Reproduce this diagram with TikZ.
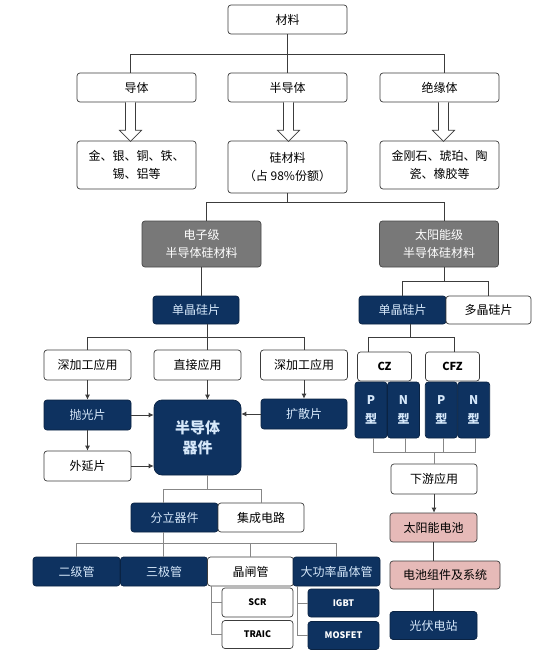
\documentclass[tikz,border=0pt]{standalone}
\usepackage{fontspec}
\setmainfont{Noto Sans CJK SC}
\usetikzlibrary{arrows.meta}
\definecolor{SiNavy}{RGB}{14,50,96}
\definecolor{SiNavyText}{RGB}{214,232,250}
\definecolor{SiGrey}{RGB}{120,120,120}
\definecolor{SiPink}{RGB}{230,186,184}
\definecolor{SiLine}{RGB}{60,60,60}
\definecolor{SiLight}{RGB}{135,135,135}

\begin{document}
\begin{tikzpicture}[x=1pt,y=-1pt,
    box/.style={rectangle, rounded corners=3pt, draw=SiLine, line width=0.7pt,
                align=center, inner sep=1pt, font=\fontsize{12}{18}\selectfont},
    wbox/.style={box, fill=white, text=black},
    nbox/.style={box, fill=SiNavy, draw=SiNavy!70!black, text=SiNavyText},
    gbox/.style={box, fill=SiGrey, draw=SiGrey!60!black, text=white},
    pbox/.style={box, fill=SiPink, text=black},
    sz/.style 2 args={minimum width=#1pt, minimum height=#2pt},
    conn/.style={draw=SiLine, line width=0.8pt},
    tree/.style={draw=SiLight, line width=1pt},
    arr/.style={conn, -{Latex[length=5pt,width=5pt]}},
    hollow/.style={draw=SiLine, fill=white, line width=0.7pt, line join=miter}]
  \useasboundingbox[fill=white] (0,0) rectangle (540,663);

  % materials
  \node[wbox, sz={119}{29}] (mat) at (287.5,19.5) {材料};
  \node[wbox, sz={119}{29}] (dt)  at (136.5,87.5) {导体};
  \node[wbox, sz={119}{29}] (bdt) at (287.5,87.5) {半导体};
  \node[wbox, sz={119}{29}] (jyt) at (439.5,87.5) {绝缘体};
  \node[wbox, sz={119}{48}] (jsh) at (136.5,165) {金、银、铜、铁、\\锡、铝等};
  \node[wbox, sz={119}{52}] (si)  at (287.5,167) {硅材料\\（占 98\%份额）};
  \node[wbox, sz={119}{48}] (jyw) at (439.5,165) {金刚石、琥珀、陶\\瓷、橡胶等};

  \draw[conn] (mat.south) -- ++(0,20) coordinate (mbar);
  \draw[conn] ([xshift=-6pt]dt.north) |- (mbar) -| ([xshift=5pt]jyt.north);
  \draw[conn] (mbar) -- (bdt.north);
  \foreach \n/\dx in {dt/-6,bdt/1,jyt/4}
    \draw[hollow] ([xshift=\dx pt-5pt]\n.south) -- ++(0,28) -- ++(-6,0)
      -- ++(11,11) -- ++(11,-11) -- ++(-6,0) -- ++(0,-28);

  % two grades of silicon
  \node[gbox, sz={119}{46}] (gE) at (201.5,244) {电子级\\半导体硅材料};
  \node[gbox, sz={119}{46}] (gS) at (439,244) {太阳能级\\半导体硅材料};
  \draw[conn] (si.south) -- ++(0,9) coordinate (sbar);
  \draw[conn] ([xshift=5pt]gE.north) |- (sbar) -| ([xshift=5pt]gS.north);

  % electronic branch
  \node[nbox, sz={86}{28}] (dL) at (196,310) {单晶硅片};
  \node[wbox, sz={87}{30}] (a1) at (87.5,365) {深加工应用};
  \node[wbox, sz={87}{30}] (a2) at (197.5,365) {直接应用};
  \node[wbox, sz={87}{30}] (a3) at (304,365) {深加工应用};
  \node[nbox, sz={87}{30}] (pg) at (87.5,415) {抛光片};
  \node[wbox, sz={87}{30}] (wy) at (87.5,466) {外延片};
  \node[nbox, sz={86}{30}] (kq) at (304,414) {扩散片};
  \node[nbox, sz={87}{75}, rounded corners=8pt,
        font=\fontsize{15}{20}\selectfont\bfseries] (qj) at (197.5,437.5) {半导体\\器件};

  \draw[conn] (gE.south) -- (gE.south |- dL.north);
  \draw[conn] ([xshift=11pt]dL.south) -- ++(0,13) coordinate (dbar);
  \draw[conn] (a1.north) |- (dbar) -| (a3.north);
  \draw[conn] (dbar) -- (dbar |- a2.north);
  \draw[arr] (a1) -- (pg);
  \draw[arr] ([xshift=10pt]a2.south) -- ([xshift=10pt]qj.north);
  \draw[arr] (a3) -- (kq);
  \draw[arr] (pg) -- (wy);
  \draw[arr] (pg.east) -- (pg.east -| qj.west);
  \draw[arr] (wy.east) -- (wy.east -| qj.west);
  \draw[arr] (kq.west) -- (kq.west -| qj.east);

  % devices
  \node[nbox, sz={87}{29}] (fl) at (174.5,517.5) {分立器件};
  \node[wbox, sz={86}{29}] (jc) at (261,517.5) {集成电路};
  \node[nbox, sz={87}{29}] (ej) at (76.5,571.5) {二级管};
  \node[nbox, sz={87}{29}] (sj) at (164,571.5) {三极管};
  \node[wbox, sz={86}{29}] (jz) at (250.5,571.5) {晶闸管};
  \node[nbox, sz={87}{29}] (dg) at (336.5,571.5) {大功率晶体管};
  \node[wbox, sz={71}{29}, font=\fontsize{9}{11}\selectfont\bfseries] (scr) at (257.5,602.5) {SCR};
  \node[wbox, sz={71}{28}, font=\fontsize{9}{11}\selectfont\bfseries] (traic) at (257.5,634.5) {TRAIC};
  \node[nbox, sz={71}{28}, font=\fontsize{9}{11}\selectfont\bfseries, text=white] (igbt) at (343.5,603) {IGBT};
  \node[nbox, sz={71}{28}, font=\fontsize{9}{11}\selectfont\bfseries, text=white] (mosfet) at (343.5,635.5) {MOSFET};

  \draw[tree] ([xshift=10pt]qj.south) -- ++(0,14) coordinate (qbar);
  \draw[tree] ([xshift=-11pt]fl.north) |- (qbar) -| (jc.north);
  \draw[tree] ([xshift=-11pt]fl.south) -- ++(0,11) coordinate (fbar);
  \draw[tree] (ej.north) |- (fbar) -| (dg.north);
  \draw[tree] (fbar) -- (fbar |- sj.north);
  \draw[tree] (fbar -| jz.north) -- (jz.north);
  \draw[tree] ([xshift=-39pt]jz.south) coordinate (jzb) |- (traic.west);
  \draw[tree] (jzb |- scr.west) -- (scr.west);
  \draw[tree] ([xshift=-39pt]dg.south) coordinate (dgb) |- (mosfet.west);
  \draw[tree] (dgb |- igbt.west) -- (igbt.west);

  % solar branch
  \node[nbox, sz={87}{28}] (dR) at (402.5,310) {单晶硅片};
  \node[wbox, sz={85}{28}] (dP) at (488.5,310) {多晶硅片};
  \node[wbox, sz={54}{29}, font=\fontsize{11}{13}\selectfont\bfseries] (cz) at (384.5,366.5) {CZ};
  \node[wbox, sz={54}{29}, font=\fontsize{11}{13}\selectfont\bfseries] (cfz) at (452.5,366.5) {CFZ};
  \foreach \n/\t/\cx in {p1/P/371, n1/N/403.5, p2/P/441.3, n2/N/473.7}
    \node[nbox, sz={32}{56}, font=\fontsize{12}{19}\selectfont\bfseries] (\n) at (\cx,410) {\t\\型};
  \node[wbox, sz={86}{30}] (xy) at (434,479) {下游应用};
  \node[pbox, sz={87}{29}] (tyc) at (433.5,527.5) {太阳能电池};
  \node[pbox, sz={110}{28}] (dcz) at (445,575) {电池组件及系统};
  \node[nbox, sz={87}{28}] (gfd) at (433.5,625.5) {光伏电站};

  \draw[conn] ([xshift=5pt]gS.south) -- ++(0,14) coordinate (gbar);
  \draw[conn] (dR.north) |- (gbar) -| (dP.north);
  \draw[conn] ([xshift=8pt]dR.south) -- ++(0,13) coordinate (cbar);
  \draw[conn] ([xshift=-16pt]cz.north) |- (cbar) -| ([xshift=2pt]cfz.north);
  \foreach \n in {p1,n1,p2,n2}
    \draw[tree] ([xshift=2pt]\n.south) -- ++(0,14) coordinate (\n b);
  \draw[tree] (p1b) -- (n2b);
  \draw[tree] (xy.north |- p1b) -- (xy.north);
  \draw[arr] (xy.south) -- (xy.south |- tyc.north);
  \draw[conn] (tyc.south) -- (tyc.south |- dcz.north);
  \draw[conn] (dcz.south -| gfd.north) -- (gfd.north);
\end{tikzpicture}
\end{document}
